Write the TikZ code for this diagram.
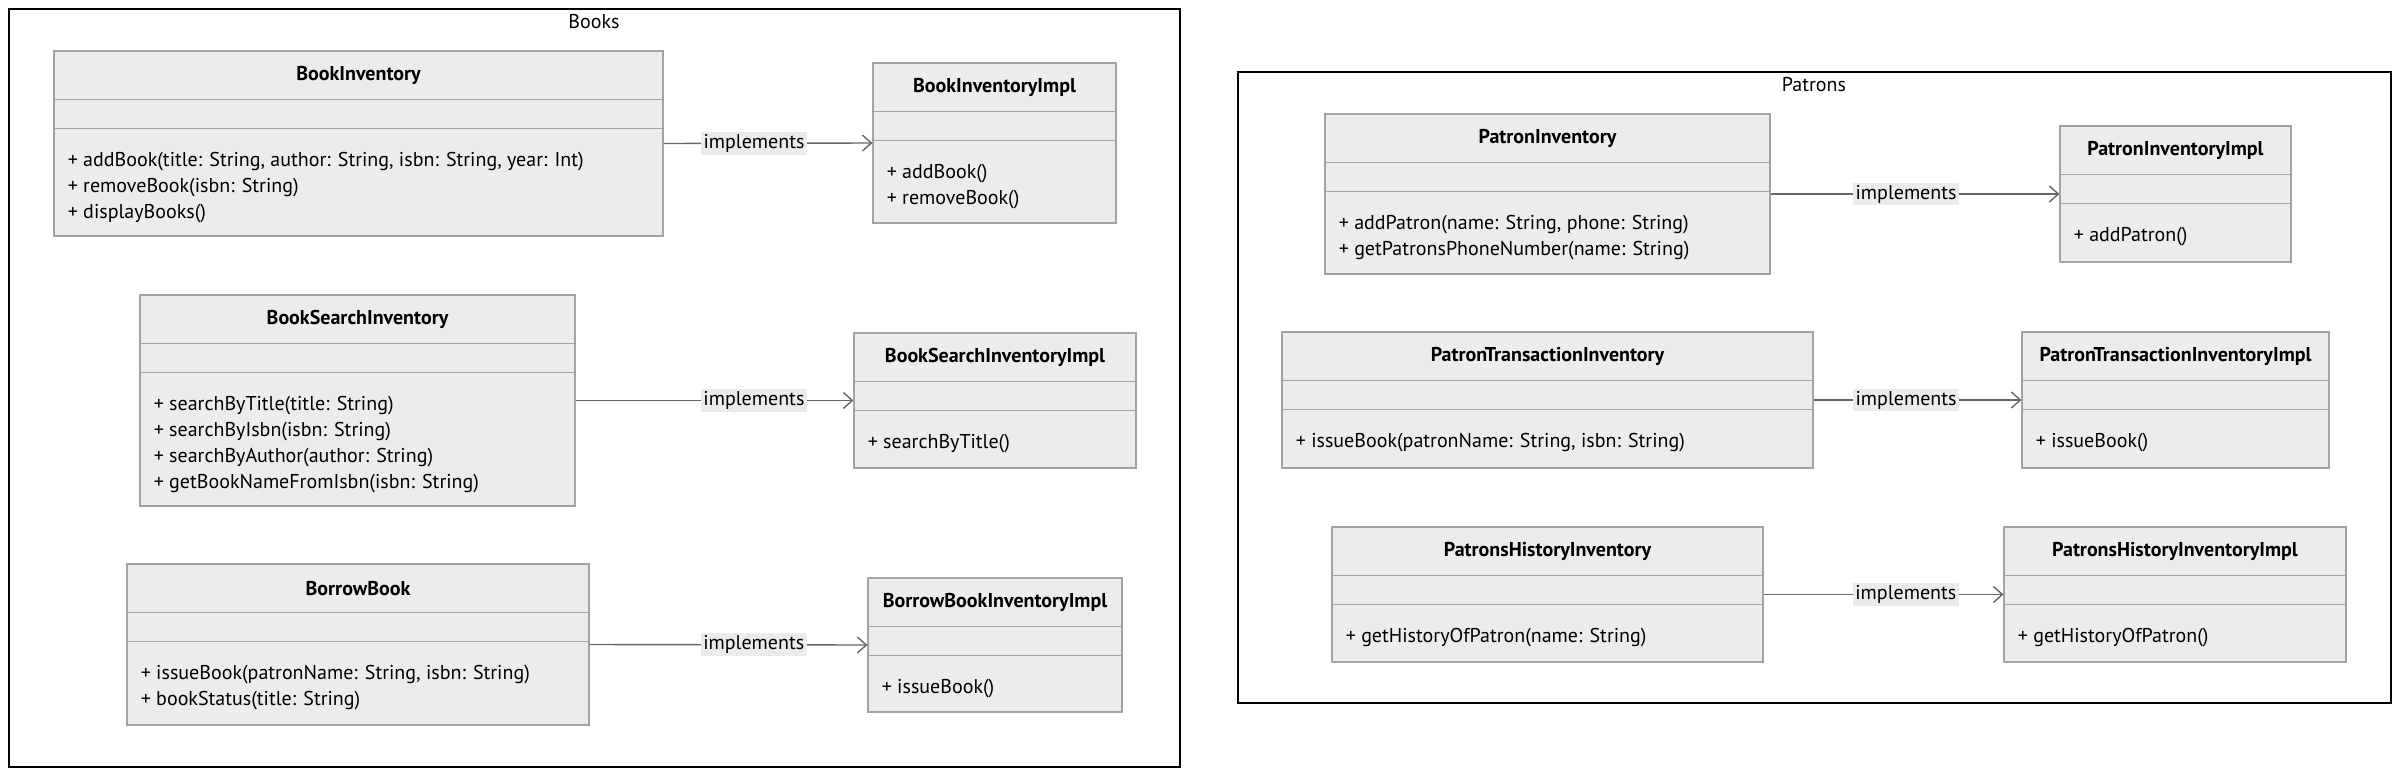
\documentclass[tikz,border=0pt]{standalone}
\usepackage{fontspec}
\setmainfont{PT Sans}
\usetikzlibrary{arrows.meta,calc,fit}

\definecolor{boxfill}{HTML}{ECECEC}
\definecolor{boxline}{HTML}{A3A3A3}
\definecolor{arrline}{HTML}{666666}
\definecolor{lblfill}{HTML}{EBEBEB}

\tikzset{
	classbox/.style={draw=boxline, fill=boxfill, line width=0.6pt, inner sep=0pt},
	sepline/.style={draw=boxline, line width=0.6pt},
	classtitle/.style={inner sep=0pt, font=\bfseries\fontsize{10}{12}\selectfont},
	method/.style={anchor=base west, inner sep=0pt, font=\fontsize{10}{12}\selectfont},
	frame/.style={draw=black, line width=0.6pt, inner sep=0pt},
	frametitle/.style={inner sep=0pt, font=\fontsize{10}{12}\selectfont},
	impl/.style={draw=arrline, line width=0.7pt, -{Straight Barb[length=4.5pt,width=8pt]}},
	lbl/.style={fill=lblfill, inner sep=1.2pt, font=\fontsize{10}{12}\selectfont, text=black},
}

% class box: name, x1, y1, x2, y2, title, methods
\newcommand{\umlclass}[7]{%
	\node[classbox, fit={(#2,#3) (#4,#5)}] (#1) {};
	\draw[sepline] ($(#1.north west)+(0,49)$) -- ($(#1.north east)+(0,49)$);
	\draw[sepline] ($(#1.north west)+(0,78)$) -- ($(#1.north east)+(0,78)$);
	\node[classtitle] (#1-title) at ($(#1.north)+(0,25)$) {#6};
	\foreach \m [count=\i] in {#7}
		\node[method] (#1-m\i) at ($(#1.north west)+(14,90.5+25.8*\i)$) {\m};
}

\begin{document}
\begin{tikzpicture}[x=0.5pt, y=-0.5pt]
	\useasboundingbox (0,0) rectangle (2400,776);

	% Books
	\node[frame, fit={(9,9) (1180,767)}] (books) {};
	\node[frametitle] (books-title) at (594,22) {Books};

	\umlclass{bi}{54}{51}{663}{236}{BookInventory}%
		{{+ addBook(title: String, author: String, isbn: String, year: Int)}, {+ removeBook(isbn: String)}, {+ displayBooks()}}
	\umlclass{bii}{873}{63}{1116}{223}{BookInventoryImpl}%
		{{+ addBook()}, {+ removeBook()}}
	\umlclass{bs}{140}{295}{575}{506}{BookSearchInventory}%
		{{+ searchByTitle(title: String)}, {+ searchByIsbn(isbn: String)}, {+ searchByAuthor(author: String)}, {+ getBookNameFromIsbn(isbn: String)}}
	\umlclass{bsi}{854}{333}{1136}{468}{BookSearchInventoryImpl}%
		{{+ searchByTitle()}}
	\umlclass{bb}{127}{564}{589}{725}{BorrowBook}%
		{{+ issueBook(patronName: String, isbn: String)}, {+ bookStatus(title: String)}}
	\umlclass{bbi}{868}{578}{1122}{712}{BorrowBookInventoryImpl}%
		{{+ issueBook()}}

	\draw[impl] (bi.east) -- node[lbl, pos=0.433] {implements} (bii.west);
	\draw[impl] (bs.east) -- node[lbl, pos=0.642] {implements} (bsi.west);
	\draw[impl] (bb.east) -- node[lbl, pos=0.591] {implements} (bbi.west);

	% Patrons
	\node[frame, fit={(1238,72) (2391,703)}] (patrons) {};
	\node[frametitle] (patrons-title) at (1814,85) {Patrons};

	\umlclass{pi}{1325}{114}{1770}{274}{PatronInventory}%
		{{+ addPatron(name: String, phone: String)}, {+ getPatronsPhoneNumber(name: String)}}
	\umlclass{pii}{2060}{126}{2291}{262}{PatronInventoryImpl}%
		{{+ addPatron()}}
	\umlclass{pt}{1282}{332}{1813}{468}{PatronTransactionInventory}%
		{{+ issueBook(patronName: String, isbn: String)}}
	\umlclass{pti}{2022}{332}{2329}{468}{PatronTransactionInventoryImpl}%
		{{+ issueBook()}}
	\umlclass{ph}{1332}{527}{1763}{662}{PatronsHistoryInventory}%
		{{+ getHistoryOfPatron(name: String)}}
	\umlclass{phi}{2004}{527}{2346}{662}{PatronsHistoryInventoryImpl}%
		{{+ getHistoryOfPatron()}}

	\draw[impl] (pi.east) -- node[lbl, pos=0.469] {implements} (pii.west);
	\draw[impl] (pt.east) -- node[lbl, pos=0.445] {implements} (pti.west);
	\draw[impl] (ph.east) -- node[lbl, pos=0.593] {implements} (phi.west);
\end{tikzpicture}
\end{document}
